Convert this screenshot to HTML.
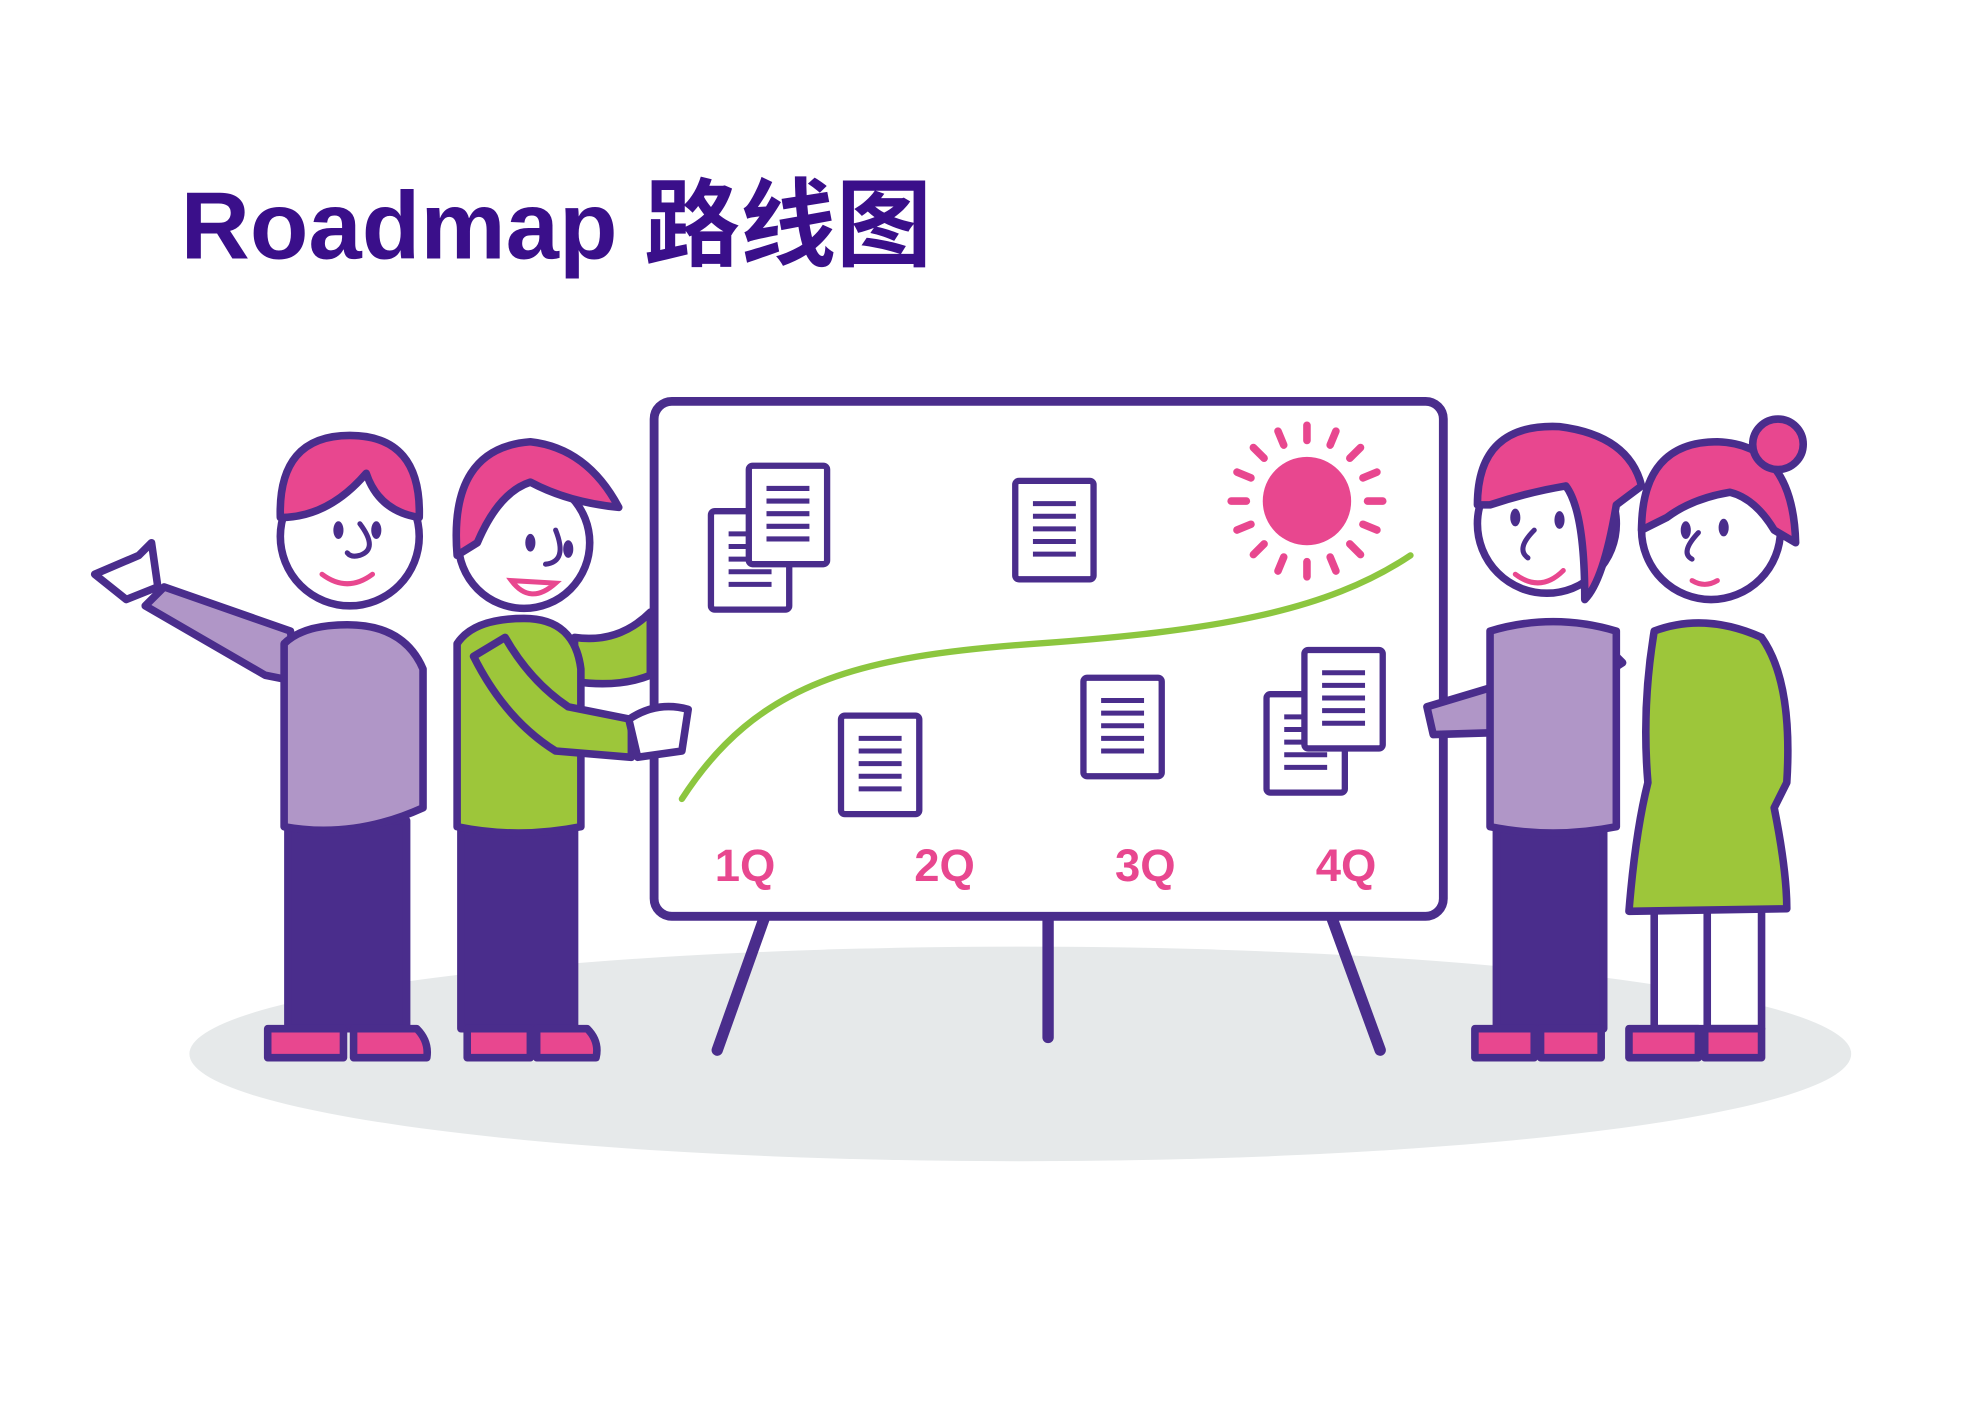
<!DOCTYPE html>
<html><head><meta charset="utf-8"><style>
html,body{margin:0;padding:0;background:#fff;}
svg{display:block;}
</style></head><body>
<svg width="1980" height="1401" viewBox="0 0 1568 1110" preserveAspectRatio="none" xmlns="http://www.w3.org/2000/svg">
<rect width="1568" height="1110" fill="#fff"/>
<text x="143" y="205" font-family="Liberation Sans, 'Noto Sans CJK SC', sans-serif" font-weight="bold" font-size="76" fill="#3a0f8a" textLength="595" lengthAdjust="spacingAndGlyphs">Roadmap 路线图</text>
<ellipse cx="808" cy="835" rx="658" ry="85" fill="#e6e9ea"/>
<g stroke="#4a2d8c" stroke-linecap="round" stroke-linejoin="round" fill="none">
<line x1="605" y1="728" x2="568" y2="832" stroke-width="9"/>
<line x1="830" y1="728" x2="830" y2="822" stroke-width="9"/>
<line x1="1055" y1="728" x2="1093" y2="832" stroke-width="9"/>
<rect x="518" y="318" width="625" height="408" rx="14" fill="#fff" stroke-width="7"/>
</g>
<path d="M540 633 C600 540 680 520 820 510 C960 500 1050 485 1117 440" stroke="#8cc63f" stroke-width="5" fill="none" stroke-linecap="round"/>
<g font-family="Liberation Sans, sans-serif" font-weight="bold" font-size="36" fill="#e8478f" text-anchor="middle">
<text x="590" y="698">1Q</text><text x="748" y="698">2Q</text><text x="907" y="698">3Q</text><text x="1066" y="698">4Q</text>
</g>
<defs>
<g id="doc">
<rect x="0" y="0" width="62" height="78" rx="3" fill="#fff" stroke="#4a2d8c" stroke-width="5"/>
<g stroke="#4a2d8c" stroke-width="4"><line x1="14" y1="18" x2="48" y2="18"/><line x1="14" y1="28" x2="48" y2="28"/><line x1="14" y1="38" x2="48" y2="38"/><line x1="14" y1="48" x2="48" y2="48"/><line x1="14" y1="58" x2="48" y2="58"/></g>
</g>
</defs>
<use href="#doc" x="804" y="381"/>
<use href="#doc" x="666" y="567"/>
<use href="#doc" x="858" y="537"/>
<use href="#doc" x="563" y="405"/>
<use href="#doc" x="593" y="369"/>
<use href="#doc" x="1003" y="550"/>
<use href="#doc" x="1033" y="515"/>
<circle cx="1035" cy="397" r="35" fill="#e8478f"/>
<g stroke="#e8478f" stroke-width="6" stroke-linecap="round" transform="translate(1035 397)">
<g id="ray"><line x1="0" y1="-48" x2="0" y2="-60"/></g>
<use href="#ray" transform="rotate(22.5)"/><use href="#ray" transform="rotate(45)"/><use href="#ray" transform="rotate(67.5)"/>
<use href="#ray" transform="rotate(90)"/><use href="#ray" transform="rotate(112.5)"/><use href="#ray" transform="rotate(135)"/>
<use href="#ray" transform="rotate(157.5)"/><use href="#ray" transform="rotate(180)"/><use href="#ray" transform="rotate(202.5)"/>
<use href="#ray" transform="rotate(225)"/><use href="#ray" transform="rotate(247.5)"/><use href="#ray" transform="rotate(270)"/>
<use href="#ray" transform="rotate(292.5)"/><use href="#ray" transform="rotate(315)"/><use href="#ray" transform="rotate(337.5)"/>
</g>
<g stroke="#4a2d8c" stroke-width="6" stroke-linejoin="round" stroke-linecap="round">
<!-- Person 1 -->
<path d="M230 500 L130 465 L115 480 L210 535 L235 540 Z" fill="#b096c7"/>
<path d="M75 455 L110 440 L120 430 L125 465 L100 475 Z" fill="#fff"/>
<rect x="228" y="650" width="94" height="165" fill="#4a2d8c"/>
<path d="M225 510 Q240 495 275 495 Q320 495 335 530 L335 640 Q280 665 225 655 Z" fill="#b096c7"/>
<path d="M212 815 L272 815 L272 838 L212 838 Z M280 815 L330 815 Q340 825 338 838 L280 838 Z" fill="#e8478f"/>
<circle cx="277" cy="425" r="55" fill="#fff"/>
<path d="M222 410 Q220 345 277 345 Q334 345 332 410 Q300 405 290 375 Q260 410 222 410 Z" fill="#e8478f"/>
<!-- Person 2 -->
<path d="M455 505 Q490 510 515 485 L515 535 Q490 545 455 540 Z" fill="#9dc63a"/>
<rect x="365" y="650" width="90" height="165" fill="#4a2d8c"/>
<path d="M362 510 Q375 490 415 490 Q455 490 460 530 L460 655 Q410 665 362 655 Z" fill="#9dc63a"/>
<path d="M375 520 Q400 570 440 595 L500 600 L500 570 L450 560 Q420 540 400 505 Z" fill="#9dc63a"/>
<path d="M498 570 Q520 555 545 562 L540 595 L505 600 Z" fill="#fff"/>
<path d="M370 815 L420 815 L420 838 L370 838 Z M425 815 L465 815 Q475 825 472 838 L425 838 Z" fill="#e8478f"/>
<circle cx="415" cy="430" r="52" fill="#fff"/>
<path d="M362 440 Q355 355 420 350 Q465 355 490 402 Q450 398 420 382 Q395 390 378 430 Z" fill="#e8478f"/>
<!-- Person 3 -->
<path d="M1130 560 L1180 545 L1270 510 L1285 525 L1200 580 L1135 582 Z" fill="#b096c7"/>
<rect x="1185" y="650" width="85" height="165" fill="#4a2d8c"/>
<path d="M1180 500 Q1230 485 1280 500 L1280 655 Q1230 665 1180 655 Z" fill="#b096c7"/>
<path d="M1168 815 L1215 815 L1215 838 L1168 838 Z M1220 815 L1268 815 L1268 838 L1220 838 Z" fill="#e8478f"/>
<circle cx="1225" cy="415" r="55" fill="#fff"/>
<path d="M1170 400 Q1170 335 1235 338 Q1290 345 1300 385 L1280 400 Q1270 460 1255 475 Q1255 405 1240 385 Q1210 390 1180 400 Z" fill="#e8478f"/>
<!-- Person 4 -->
<rect x="1310" y="715" width="85" height="100" fill="#fff"/>
<line x1="1352" y1="720" x2="1352" y2="815"/>
<path d="M1310 500 Q1350 485 1395 505 Q1420 540 1415 620 L1405 640 Q1415 690 1415 720 L1290 722 Q1295 660 1305 620 Q1300 560 1310 500 Z" fill="#9dc63a"/>
<path d="M1290 815 L1345 815 L1345 838 L1290 838 Z M1350 815 L1395 815 L1395 838 L1350 838 Z" fill="#e8478f"/>
<circle cx="1355" cy="420" r="55" fill="#fff"/>
<path d="M1300 420 Q1300 350 1360 350 Q1420 352 1422 430 L1405 420 Q1390 395 1370 390 Q1340 395 1320 410 Z" fill="#e8478f"/>
<circle cx="1408" cy="352" r="20" fill="#e8478f"/>
</g>
<!-- faces -->
<g fill="#4a2d8c">
<ellipse cx="268" cy="420" rx="4" ry="7"/><ellipse cx="298" cy="420" rx="4" ry="7"/>
<ellipse cx="420" cy="430" rx="4" ry="7"/><ellipse cx="450" cy="435" rx="4" ry="7"/>
<ellipse cx="1200" cy="410" rx="4" ry="7"/><ellipse cx="1235" cy="412" rx="4" ry="7"/>
<ellipse cx="1335" cy="420" rx="4" ry="7"/><ellipse cx="1365" cy="418" rx="4" ry="7"/>
</g>
<g fill="none" stroke="#e8478f" stroke-width="4" stroke-linecap="round">
<path d="M255 455 Q275 470 295 455"/>
<path d="M405 460 Q420 480 440 462 Z" fill="#fff"/>
<path d="M1200 455 Q1220 470 1238 452"/>
<path d="M1340 460 Q1350 466 1360 460"/>
</g>
<g fill="none" stroke="#4a2d8c" stroke-width="4" stroke-linecap="round">
<path d="M285 415 Q300 435 285 440 Q278 442 275 438"/>
<path d="M440 420 Q450 445 432 447"/>
<path d="M1215 420 Q1200 435 1210 442"/>
<path d="M1345 422 Q1330 438 1340 443"/>
</g>
</svg>
</body></html>
